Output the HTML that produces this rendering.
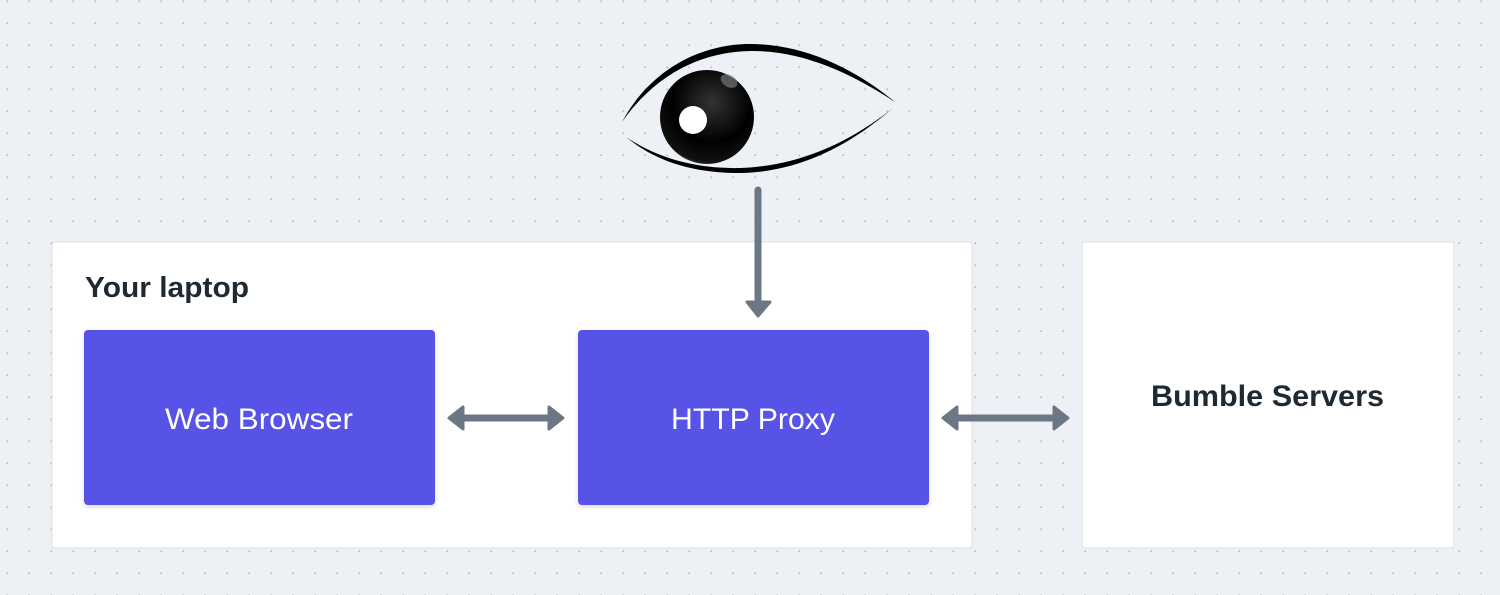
<!DOCTYPE html>
<html><head><meta charset="utf-8"><style>
html,body{margin:0;padding:0;width:1500px;height:595px;overflow:hidden;background:#edf0f4}
</style></head><body>
<svg width="1500" height="595" viewBox="0 0 1500 595" xmlns="http://www.w3.org/2000/svg" style="display:block">
<defs>
<pattern id="dots" x="6" y="0" width="22" height="22" patternUnits="userSpaceOnUse">
<circle cx="1.2" cy="1.2" r="1" fill="#b9bec6"/>
</pattern>
<radialGradient id="iris" cx="0.55" cy="0.35" r="0.7">
<stop offset="0" stop-color="#333"/><stop offset="0.6" stop-color="#000"/><stop offset="0.9" stop-color="#111"/><stop offset="1" stop-color="#555"/>
</radialGradient>
<filter id="sh" x="-5%" y="-5%" width="110%" height="115%"><feDropShadow dx="0" dy="2" stdDeviation="2" flood-color="#000" flood-opacity="0.15"/></filter>
</defs>
<rect width="1500" height="595" fill="#edf0f4"/>
<rect width="1500" height="595" fill="url(#dots)"/>
<!-- eye -->
<path d="M622,122 C650,70 700,44 750,44 C800,44 850,65 895,102 C850,72 800,50 750,51 C700,52 655,75 622,122 Z" fill="#000"/>
<path d="M626,137 C660,165 700,173 740,173 C800,172 850,145 893,108 C850,142 800,166 740,168 C700,169 660,160 626,137 Z" fill="#000"/>
<circle cx="707" cy="117" r="47" fill="url(#iris)"/>
<ellipse cx="729" cy="81" rx="9" ry="6" fill="#888" opacity="0.6" transform="rotate(30 729 81)"/>
<circle cx="693" cy="120" r="14" fill="#fff"/>
<!-- boxes -->
<rect x="52" y="242" width="920" height="306" rx="3" fill="#fff" stroke="#dde0e5"/>
<rect x="1082" y="242" width="372" height="306" rx="3" fill="#fff" stroke="#dde0e5"/>
<text x="85" y="297" font-family="Liberation Sans, sans-serif" font-weight="bold" font-size="29" fill="#1f2933" textLength="164" lengthAdjust="spacingAndGlyphs">Your laptop</text>
<text x="1151" y="406" font-family="Liberation Sans, sans-serif" font-weight="bold" font-size="30" fill="#1f2933" textLength="233" lengthAdjust="spacingAndGlyphs">Bumble Servers</text>
<rect x="84" y="330" width="351" height="175" rx="4" fill="#5753e6" filter="url(#sh)"/>
<rect x="578" y="330" width="351" height="175" rx="4" fill="#5753e6" filter="url(#sh)"/>
<text x="165" y="429" font-family="Liberation Sans, sans-serif" font-size="30" fill="#fff" textLength="188" lengthAdjust="spacingAndGlyphs">Web Browser</text>
<text x="671" y="429" font-family="Liberation Sans, sans-serif" font-size="30" fill="#fff" textLength="164" lengthAdjust="spacingAndGlyphs">HTTP Proxy</text>
<!-- arrows -->
<g fill="#6b7785" stroke="#6b7785" stroke-linejoin="round">
<line x1="758" y1="190" x2="758" y2="302" stroke-width="7" stroke-linecap="round"/>
<polygon points="747,302 770,302 758,316" stroke-width="3"/>
<line x1="460" y1="418" x2="552" y2="418" stroke-width="7"/>
<polygon points="463,407 463,429 449,418" stroke-width="3"/>
<polygon points="549,407 549,429 563,418" stroke-width="3"/>
<line x1="954" y1="418" x2="1056" y2="418" stroke-width="7"/>
<polygon points="957,407 957,429 943,418" stroke-width="3"/>
<polygon points="1054,407 1054,429 1068,418" stroke-width="3"/>
</g>
</svg>
</body></html>
